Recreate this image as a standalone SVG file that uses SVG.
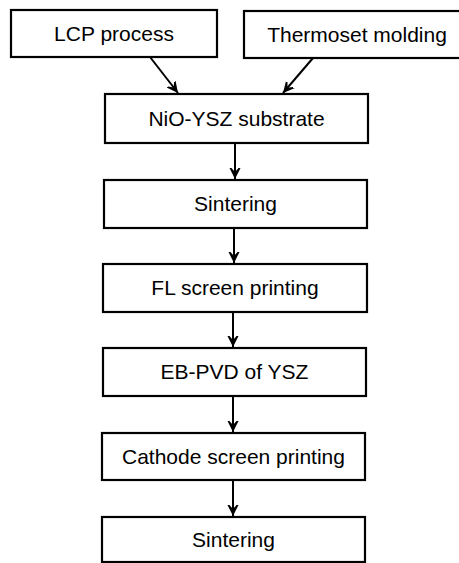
<svg xmlns="http://www.w3.org/2000/svg" width="459" height="563" viewBox="0 0 459 563">
<style>
.box{fill:#fff;stroke:#000;stroke-width:2.2}
.lbl{font-family:"Liberation Sans",Arial,sans-serif;font-size:21px;fill:#000;text-anchor:middle}
.con{stroke:#000;stroke-width:2;fill:none;marker-end:url(#ah)}
</style>
<defs>
<marker id="ah" markerUnits="userSpaceOnUse" markerWidth="22" markerHeight="22" viewBox="-11 -11 22 22" refX="0" refY="0" orient="auto">
<path d="M0,0 L-16,-8 L-7,0 L-16,8 Z" fill="#000"/>
</marker>
</defs>
<rect width="459" height="563" fill="#fff"/>
<g id="connectors">
<line class="con" x1="150" y1="57" x2="178" y2="93"/>
<line class="con" x1="313" y1="58" x2="283" y2="93"/>
<line class="con" x1="235" y1="143" x2="235" y2="179"/>
<line class="con" x1="234" y1="228" x2="234" y2="263"/>
<line class="con" x1="233" y1="312" x2="233" y2="347"/>
<line class="con" x1="233" y1="396" x2="233" y2="432"/>
<line class="con" x1="233" y1="480" x2="233" y2="516"/>
</g>
<g id="lcp"><rect class="box" x="11" y="10" width="206" height="47"/><text class="lbl" x="114" y="33.5" dy="0.35em">LCP process</text></g>
<g id="thermoset"><rect class="box" x="244" y="11" width="230" height="47"/><text class="lbl" x="357" y="34.5" dy="0.35em">Thermoset molding</text></g>
<g id="nio"><rect class="box" x="105" y="94" width="263" height="49"/><text class="lbl" x="236.5" y="118.5" dy="0.35em">NiO-YSZ substrate</text></g>
<g id="sintering1"><rect class="box" x="104" y="180" width="263" height="48"/><text class="lbl" x="235.5" y="204" dy="0.35em">Sintering</text></g>
<g id="fl"><rect class="box" x="103" y="264" width="264" height="48"/><text class="lbl" x="235" y="288" dy="0.35em">FL screen printing</text></g>
<g id="ebpvd"><rect class="box" x="103" y="348" width="263" height="48"/><text class="lbl" x="234.5" y="372" dy="0.35em">EB-PVD of YSZ</text></g>
<g id="cathode"><rect class="box" x="102" y="433" width="263" height="47"/><text class="lbl" x="233.5" y="456.5" dy="0.35em">Cathode screen printing</text></g>
<g id="sintering2"><rect class="box" x="102" y="517" width="263" height="45"/><text class="lbl" x="233.5" y="540" dy="0.35em">Sintering</text></g>
</svg>
